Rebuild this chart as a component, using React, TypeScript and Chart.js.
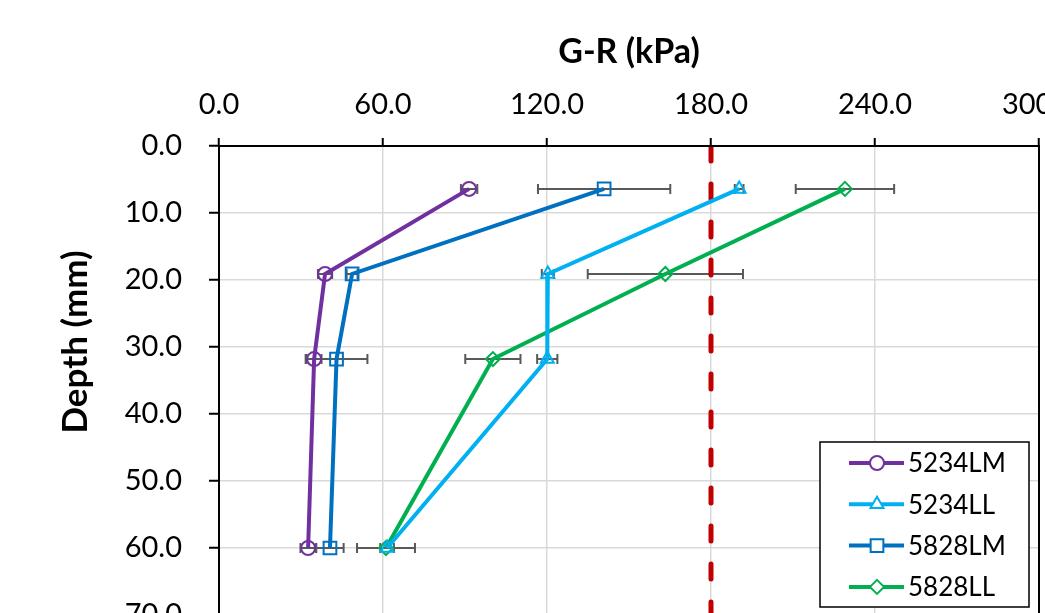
import React, { useEffect, useRef } from "react";
import { Chart, registerables } from "chart.js";

Chart.register(...registerables);

const depths = [6.4, 19.1, 31.8, 60.0];
const seriesNames = ["5234LM", "5234LL", "5828LM", "5828LL"];
const gr5234LM = [91.5, 38.8, 34.8, 32.6];
const err5234LM = [3.0, 2.6, 2.7, 2.8];
const gr5234LL = [190.3, 120.3, 120.1, 61.5];
const err5234LL = [1.6, 2.2, 3.7, 2.5];
const gr5828LM = [140.9, 48.7, 43.0, 40.6];
const err5828LM = [24.2, 2.0, 11.3, 5.0];
const gr5828LL = [229.0, 163.3, 100.2, 61.1];
const err5828LL = [18.0, 28.4, 10.1, 10.6];
const limitValue = 180;
const xTicks = [0, 60, 120, 180, 240, 300];
const yTicks = [0, 10, 20, 30, 40, 50, 60, 70];

const seriesValues = [gr5234LM, gr5234LL, gr5828LM, gr5828LL];
const seriesErrors = [err5234LM, err5234LL, err5828LM, err5828LL];
const seriesColors = ["#7030A0", "#00B0F0", "#0070C0", "#00B050"];
const seriesMarkers = ["circle", "triangle", "rect", "rectRot"];
const seriesRadii = [7, 7.5, 9, 7];

const FONT = "Lato, 'Open Sans', sans-serif";

export default function App() {
  const ref = useRef<HTMLCanvasElement | null>(null);

  useEffect(() => {
    const canvas = ref.current;
    if (!canvas) return;

    const datasets: any[] = seriesNames.map((name, s) => ({
      label: name,
      data: depths.map((d, i) => ({ x: seriesValues[s][i], y: d })),
      showLine: true,
      borderColor: seriesColors[s],
      borderWidth: 4,
      pointStyle: seriesMarkers[s],
      pointRadius: seriesRadii[s],
      pointHoverRadius: seriesRadii[s],
      pointBorderWidth: 2,
      pointBorderColor: seriesColors[s],
      pointBackgroundColor: "rgba(0,0,0,0)",
      order: 1,
    }));
    datasets.push({
      label: "limit",
      data: [
        { x: limitValue, y: yTicks[0] },
        { x: limitValue, y: yTicks[yTicks.length - 1] },
      ],
      showLine: true,
      borderColor: "#C00000",
      borderWidth: 5,
      borderDash: [15, 23],
      borderCapStyle: "round",
      pointRadius: 0,
      order: 2,
    });

    function drawMarker(ctx: CanvasRenderingContext2D, style: string, r: number, x: number, y: number) {
      ctx.beginPath();
      if (style === "circle") {
        ctx.arc(x, y, r, 0, Math.PI * 2);
      } else if (style === "triangle") {
        ctx.moveTo(x, y - r);
        ctx.lineTo(x + r * 0.866, y + r * 0.5);
        ctx.lineTo(x - r * 0.866, y + r * 0.5);
        ctx.closePath();
      } else if (style === "rect") {
        const h = r * Math.SQRT1_2;
        ctx.rect(x - h, y - h, 2 * h, 2 * h);
      } else {
        ctx.moveTo(x, y - r);
        ctx.lineTo(x + r, y);
        ctx.lineTo(x, y + r);
        ctx.lineTo(x - r, y);
        ctx.closePath();
      }
      ctx.fillStyle = "#fff";
      ctx.fill();
      ctx.stroke();
    }

    const errorBars = {
      id: "errorBars",
      beforeDatasetsDraw(chart: any) {
        const { ctx, scales } = chart;
        const xs = scales.x;
        const ys = scales.y;
        ctx.save();
        ctx.strokeStyle = "#595959";
        ctx.lineWidth = 2;
        seriesValues.forEach((vals, s) => {
          vals.forEach((v, i) => {
            const e = seriesErrors[s][i];
            const y = ys.getPixelForValue(depths[i]);
            const x1 = xs.getPixelForValue(v - e);
            const x2 = xs.getPixelForValue(v + e);
            ctx.beginPath();
            ctx.moveTo(x1, y);
            ctx.lineTo(x2, y);
            ctx.moveTo(x1, y - 5);
            ctx.lineTo(x1, y + 5);
            ctx.moveTo(x2, y - 5);
            ctx.lineTo(x2, y + 5);
            ctx.stroke();
          });
        });
        ctx.restore();
      },
    };

    const frameAndLegend = {
      id: "frameAndLegend",
      afterDraw(chart: any) {
        const { ctx, chartArea } = chart;
        ctx.save();
        ctx.strokeStyle = "#000";
        ctx.lineWidth = 2;
        ctx.strokeRect(
          chartArea.left,
          chartArea.top,
          chartArea.right - chartArea.left,
          chartArea.bottom - chartArea.top
        );
        // y title
        ctx.save();
        ctx.translate(chartArea.left - 143, chartArea.top + 196);
        ctx.rotate(-Math.PI / 2);
        ctx.font = `bold 35px ${FONT}`;
        ctx.fillStyle = "#000";
        ctx.textAlign = "center";
        ctx.textBaseline = "middle";
        ctx.fillText("Depth (mm)", 0, 0);
        ctx.restore();
        // legend
        const lx = chartArea.left + 601;
        const ly = chartArea.top + 296;
        const lw = 209;
        const lh = 165;
        ctx.fillStyle = "#fff";
        ctx.fillRect(lx, ly, lw, lh);
        ctx.strokeStyle = "#000";
        ctx.lineWidth = 1.5;
        ctx.strokeRect(lx, ly, lw, lh);
        seriesNames.forEach((name, s) => {
          const cy = ly + 21 + s * 41.3;
          ctx.strokeStyle = seriesColors[s];
          ctx.lineWidth = 4;
          ctx.beginPath();
          ctx.moveTo(lx + 29, cy);
          ctx.lineTo(lx + 84, cy);
          ctx.stroke();
          ctx.lineWidth = 2;
          ctx.strokeStyle = seriesColors[s];
          drawMarker(ctx, seriesMarkers[s], seriesRadii[s], lx + 57, cy);
          ctx.fillStyle = "#000";
          ctx.font = `26px ${FONT}`;
          ctx.textAlign = "left";
          ctx.textBaseline = "middle";
          ctx.fillText(name, lx + 88, cy + 1);
        });
        ctx.restore();
      },
    };

    const chart = new Chart(canvas, {
      type: "scatter",
      data: { datasets },
      plugins: [errorBars, frameAndLegend],
      options: {
        responsive: false,
        animation: false,
        devicePixelRatio: 1,
        layout: { padding: { left: 0, top: 0, right: 71, bottom: 85 } },
        plugins: {
          legend: { display: false },
          tooltip: { enabled: false },
        },
        scales: {
          x: {
            type: "linear",
            position: "top",
            min: xTicks[0],
            max: xTicks[xTicks.length - 1],
            afterBuildTicks(scale: any) {
              scale.ticks = xTicks.map((v) => ({ value: v }));
            },
            afterFit(scale: any) {
              scale.height = 146;
            },
            ticks: {
              color: "#000",
              font: { family: FONT, size: 29 },
              padding: 16,
              maxRotation: 0,
              callback: (v: any) => Number(v).toFixed(1),
            },
            grid: {
              color: "#D9D9D9",
              lineWidth: 1.5,
              tickColor: "#000",
              tickWidth: 2,
              tickLength: 8,
            },
            border: { color: "#000", width: 2 },
            title: {
              display: true,
              text: "G-R (kPa)",
              color: "#000",
              font: { family: FONT, size: 34, weight: "bold", lineHeight: 1 },
              padding: { top: 35, bottom: 0 },
            },
          },
          y: {
            type: "linear",
            reverse: true,
            min: yTicks[0],
            max: yTicks[yTicks.length - 1],
            afterBuildTicks(scale: any) {
              scale.ticks = yTicks.map((v) => ({ value: v }));
            },
            afterFit(scale: any) {
              scale.width = 219;
            },
            ticks: {
              color: "#000",
              font: { family: FONT, size: 29 },
              padding: 27,
              callback: (v: any) => Number(v).toFixed(1),
            },
            grid: {
              color: "#D9D9D9",
              lineWidth: 1.5,
              tickColor: "#000",
              tickWidth: 2,
              tickLength: 10,
            },
            border: { color: "#000", width: 2 },
          },
        },
      } as any,
    });

    return () => chart.destroy();
  }, []);

  return (
    <div
      style={{
        position: "fixed",
        left: 0,
        top: 0,
        width: 1045,
        height: 613,
        overflow: "hidden",
        background: "#fff",
      }}
    >
      <canvas
        ref={ref}
        width={1110}
        height={700}
        style={{ width: 1110, height: 700, display: "block" }}
      />
    </div>
  );
}
